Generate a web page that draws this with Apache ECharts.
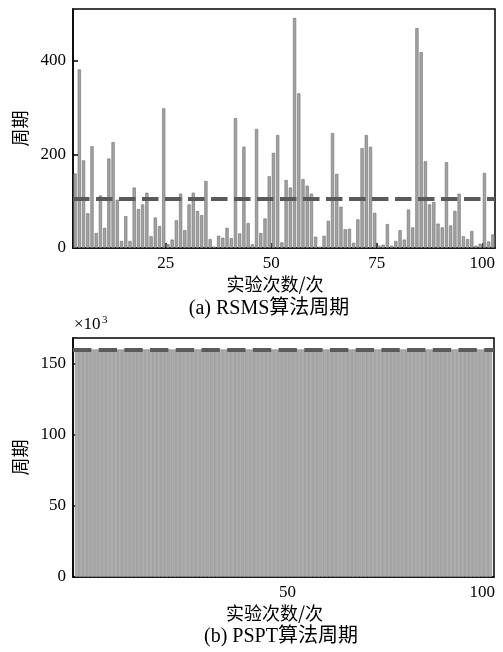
<!DOCTYPE html>
<html><head><meta charset="utf-8">
<script src="https://cdn.jsdelivr.net/npm/echarts@6/dist/echarts.min.js"></script>
<style>html,body{margin:0;padding:0;background:#fff}#c{width:503px;height:652px}</style>
</head><body><div id="c"></div>
<script>
// (a) RSMS cycles per run, 100 runs
const rsmsCycles = [
  159, 381, 187, 74, 217, 32, 112, 43, 191, 226,
  103, 15, 68, 15, 129, 83, 93, 118, 25, 65,
  47, 298, 8, 18, 59, 116, 38, 93, 118, 79,
  70, 143, 19, 3, 26, 22, 43, 21, 277, 31,
  216, 53, 8, 254, 32, 63, 153, 203, 241, 12,
  145, 129, 491, 330, 147, 133, 116, 24, 3, 26,
  58, 245, 158, 88, 40, 41, 11, 61, 213, 241,
  216, 75, 5, 7, 51, 5, 15, 38, 18, 82,
  44, 469, 418, 185, 93, 98, 52, 44, 183, 48,
  79, 116, 25, 19, 36, 5, 9, 160, 14, 29
];
// (b) PSPT cycles per run (x10^3)
const psptCycles = [
  160, 160, 160, 160, 160, 160, 160, 160, 160, 160,
  160, 160, 160, 160, 160, 160, 160, 160, 160, 160,
  160, 160, 160, 160, 160, 160, 160, 160, 160, 160,
  160, 160, 160, 160, 160, 160, 160, 160, 160, 160,
  160, 160, 160, 160, 160, 160, 160, 160, 160, 160,
  160, 160, 160, 160, 160, 160, 160, 160, 160, 160,
  160, 160, 160, 160, 160, 160, 160, 160, 160, 160,
  160, 160, 160, 160, 160, 160, 160, 160, 160, 160,
  160, 160, 160, 160, 160, 160, 160, 160, 160, 160,
  160, 160, 160, 160, 160, 160, 160, 160, 160, 160,
  160, 160, 160, 160, 160, 160, 160
];
const rsmsXTicks = [25, 50, 75, 100];
const psptXTicks = [50, 100];
const rsmsStart = 3.5;   // x position of first RSMS bar
const psptStart = -4;    // x position of first PSPT bar
const xName = '实验次数/次';
const yName = '周期';
const captionA = '(a) RSMS算法周期';
const captionB = '(b) PSPT算法周期';

const serif = 'Liberation Serif';
const cjk = 'Noto Sans CJK SC';
const tick = (vals) => ({inside: true, length: 5, customValues: vals, lineStyle: {color: '#000', width: 1.5}});

function xAxis(grid, min, max, ticks) {
  return {
    gridIndex: grid, type: 'value', min: min, max: max,
    axisLine: {onZero: false, lineStyle: {color: '#000', width: 1.5}},
    axisTick: tick(ticks),
    axisLabel: {customValues: ticks, color: '#000', fontFamily: serif, fontSize: 17, margin: 7},
    splitLine: {show: false},
    name: xName, nameLocation: 'middle', nameGap: 27,
    nameTextStyle: {fontFamily: cjk, fontSize: 18, color: '#000', padding: [0, 18, 0, 0]}
  };
}
function yAxis(grid, max, interval) {
  return {
    gridIndex: grid, type: 'value', min: 0, max: max, interval: interval,
    axisLine: {show: true, onZero: false, lineStyle: {color: '#000', width: 1.5}},
    axisTick: {inside: true, length: 5, lineStyle: {color: '#000', width: 1.5}},
    axisLabel: {showMaxLabel: false, color: '#000', fontFamily: serif, fontSize: 17, margin: 7},
    splitLine: {show: false},
    name: yName, nameLocation: 'middle', nameRotate: 90, nameGap: 42,
    nameTextStyle: {fontFamily: cjk, fontSize: 18, color: '#000'}
  };
}
function meanLine(dash) {
  return {
    symbol: 'none', silent: true, label: {show: false},
    lineStyle: {color: '#5a5a5a', width: 4, type: dash},
    emphasis: {disabled: true},
    data: [{type: 'average', valueIndex: 1}]
  };
}

const chart = echarts.init(document.getElementById('c'), null, {renderer: 'canvas'});
chart.setOption({
  animation: false,
  backgroundColor: '#fff',
  grid: [
    {left: 73, right: 8, top: 9, bottom: 404, show: true, borderColor: '#000', borderWidth: 1.5},
    {left: 73, right: 9, top: 338, bottom: 75, show: true, borderColor: '#000', borderWidth: 1.5}
  ],
  xAxis: [xAxis(0, 3, 103, rsmsXTicks), xAxis(1, -5, 103, psptXTicks)],
  yAxis: [yAxis(0, 510, 200), yAxis(1, 168, 50)],
  series: [
    {
      type: 'bar', xAxisIndex: 0, yAxisIndex: 0,
      data: rsmsCycles.map((v, i) => [rsmsStart + i, v]),
      barWidth: 3.2,
      itemStyle: {color: '#a3a3a3', borderColor: '#6f6f6f', borderWidth: 0.6},
      emphasis: {disabled: true},
      markLine: meanLine([16.5, 6.5])
    },
    {
      type: 'bar', xAxisIndex: 1, yAxisIndex: 1,
      data: psptCycles.map((v, i) => [psptStart + i, v]),
      barWidth: 3.9,
      itemStyle: {color: '#adadad', borderColor: '#8a8a8a', borderWidth: 0.6},
      emphasis: {disabled: true},
      markLine: meanLine([18.3, 7.4])
    }
  ],
  graphic: [
    {type: 'text', left: 74, top: 316, style: {text: '×10', font: '17px "Liberation Serif"', fill: '#000'}},
    {type: 'text', left: 102, top: 315, style: {text: '3', font: '11px "Liberation Serif"', fill: '#000'}},
    {type: 'text', x: 269, y: 309, style: {text: captionA, font: '20px "Liberation Serif", "Noto Sans CJK SC"', fill: '#000', textAlign: 'center', textVerticalAlign: 'middle'}},
    {type: 'text', x: 281, y: 637, style: {text: captionB, font: '20px "Liberation Serif", "Noto Sans CJK SC"', fill: '#000', textAlign: 'center', textVerticalAlign: 'middle'}}
  ]
});
</script>
</body></html>
